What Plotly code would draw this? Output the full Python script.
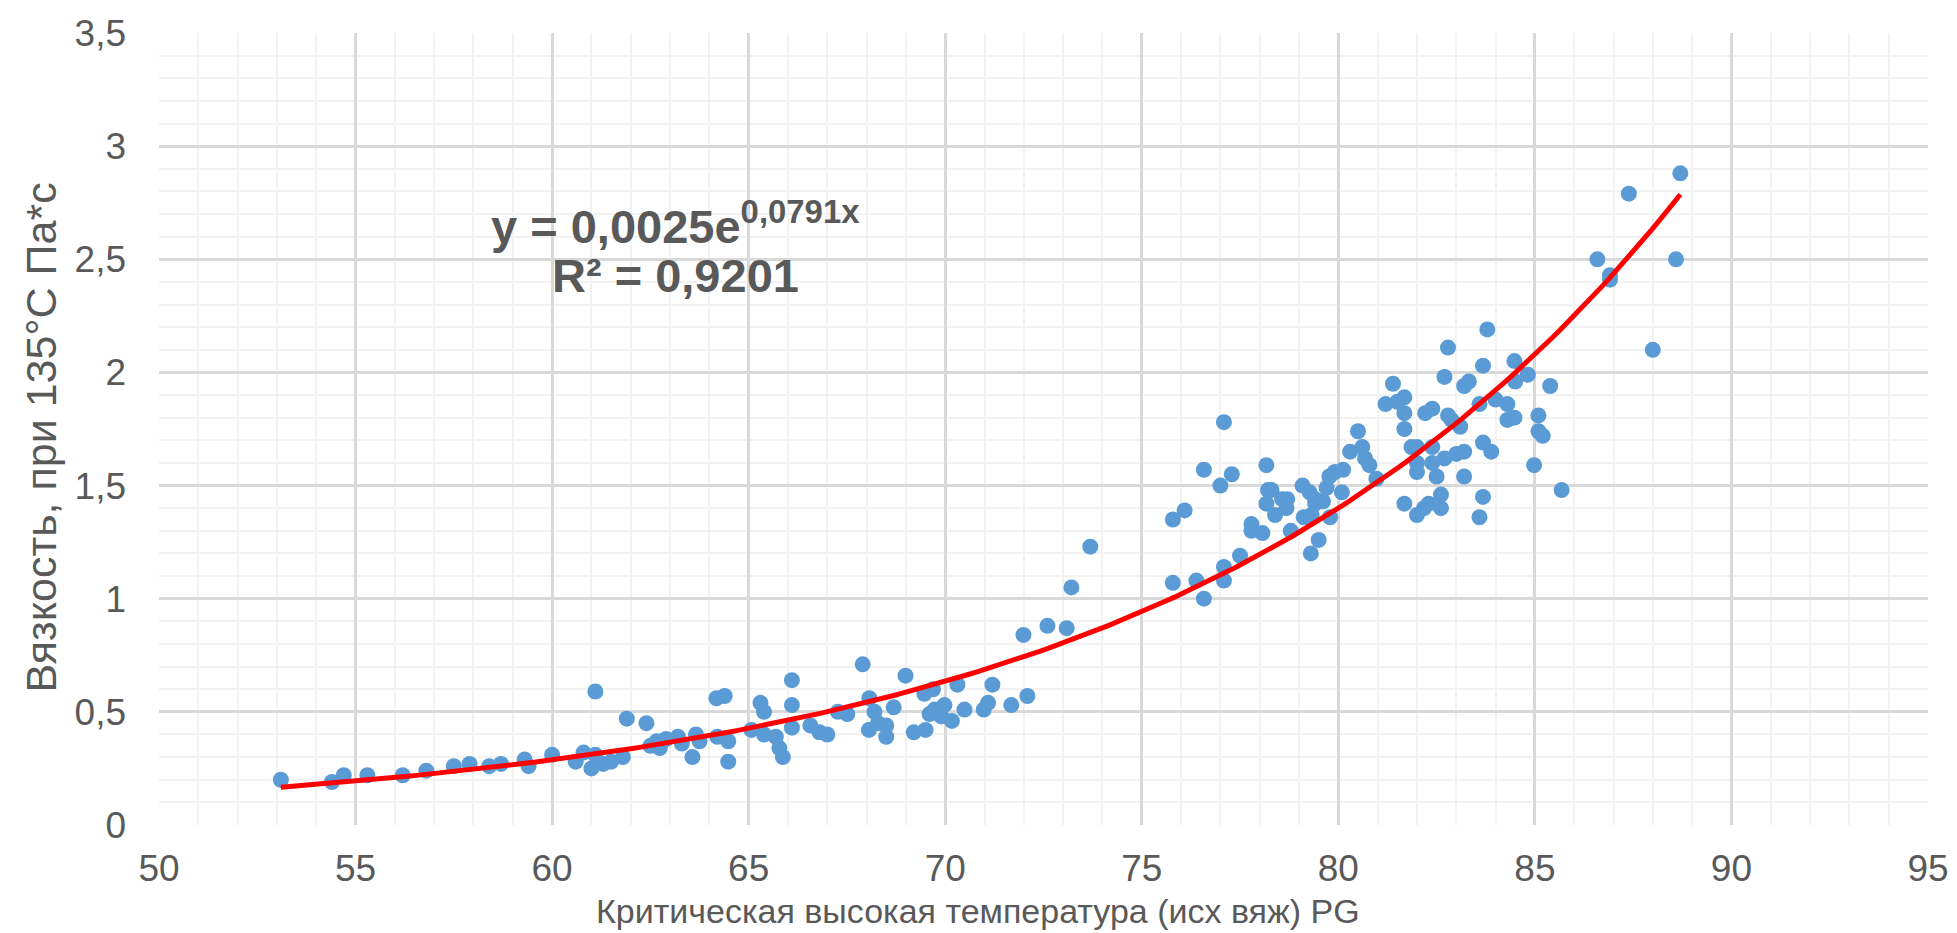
import numpy as np
import plotly.graph_objects as go

# Measured points: critical high temperature (x) vs viscosity at 135°C (y)
temp = [
    53.1, 54.4, 54.7, 55.3, 56.2, 56.8, 57.5, 57.9, 58.4, 58.7, 59.3, 59.4, 60.0, 60.6, 60.8,
    61.1, 61.0, 61.1, 61.3, 61.5, 61.8, 61.9, 62.4, 62.5, 62.66, 62.74, 62.9, 63.2, 63.3, 63.57,
    63.66, 63.75, 64.18, 64.39, 64.2, 64.48, 64.48, 65.07, 65.3, 65.39, 65.39, 65.69, 65.78, 65.87,
    66.1, 66.1, 66.1, 66.57, 66.8, 67.0,
    67.9, 67.27, 67.51, 68.07, 68.2, 68.69, 68.99, 68.29, 68.5, 68.06, 68.5, 69.2, 69.5,
    69.47, 69.69, 69.98, 69.6, 69.73, 69.9, 70.17, 70.31, 70.49, 70.98, 71.09, 71.2, 71.68,
    72.09, 71.99, 72.6, 73.09, 73.21, 73.69, 75.79, 75.79, 76.09, 76.39, 76.58, 76.58, 77.0,
    77.09, 77.09, 77.09, 77.29, 77.5, 77.79, 77.79, 78.07, 78.17, 78.21, 78.17,
    78.3, 78.39, 78.57, 78.7, 78.68, 78.79, 79.09, 79.12, 79.32, 79.27, 79.41, 79.41, 79.61,
    79.7, 79.79, 80.09, 79.77, 79.91, 80.12, 79.3, 79.5, 80.3, 80.5, 80.61, 80.68, 80.79, 80.97,
    81.39, 81.2, 81.5, 81.68, 81.68, 81.68, 81.68, 81.86, 82.0, 82.0, 82.0, 82.0, 82.18, 82.3,
    82.21, 82.39, 82.39, 82.39, 82.5, 82.61, 82.61, 82.7, 82.79, 82.7, 82.79, 82.88, 83.0, 83.1,
    83.2, 83.2, 83.2, 83.32, 83.59, 83.68, 83.68, 83.68, 83.59, 83.79, 83.89, 84.0, 84.3, 84.3,
    84.48, 84.48, 84.5, 84.82, 85.09, 85.09, 85.2, 84.98, 85.39, 85.68, 86.59, 86.91, 86.91,
    87.39, 88.0, 88.59, 88.7,
]
viscosity = [
    0.20, 0.19, 0.22, 0.22, 0.22, 0.24, 0.26, 0.27, 0.26, 0.27, 0.29, 0.26, 0.31, 0.28, 0.32,
    0.59, 0.25, 0.31, 0.27, 0.28, 0.30, 0.47, 0.45, 0.35, 0.37, 0.34, 0.38, 0.39, 0.36, 0.30,
    0.40, 0.37, 0.56, 0.57, 0.39, 0.37, 0.28, 0.42, 0.54, 0.50, 0.40, 0.39, 0.34, 0.30,
    0.64, 0.53, 0.43, 0.44, 0.41, 0.40,
    0.71, 0.50, 0.49, 0.56, 0.50, 0.52, 0.66, 0.45, 0.44, 0.42, 0.39, 0.41, 0.42,
    0.58, 0.60, 0.53, 0.49, 0.51, 0.48, 0.46, 0.62, 0.51, 0.51, 0.54, 0.62, 0.53,
    0.57, 0.84, 0.88, 0.87, 1.05, 1.23, 1.07, 1.35, 1.39, 1.08, 1.00, 1.57, 1.50,
    1.78, 1.14, 1.08, 1.55, 1.19, 1.33, 1.30, 1.29, 1.59, 1.48, 1.42,
    1.48, 1.37, 1.44, 1.44, 1.40, 1.30, 1.50, 1.36, 1.37, 1.47, 1.44, 1.42, 1.43,
    1.49, 1.36, 1.47, 1.54, 1.56, 1.57, 1.20, 1.26, 1.65, 1.74, 1.67, 1.62, 1.59, 1.53,
    1.95, 1.86, 1.87, 1.89, 1.82, 1.75, 1.42, 1.67, 1.67, 1.60, 1.56, 1.37, 1.40, 1.42,
    1.82, 1.84, 1.67, 1.60, 1.54, 1.46, 1.40, 1.98, 2.11, 1.62, 1.81, 1.79, 1.64, 1.76,
    1.65, 1.54, 1.94, 1.96, 1.86, 2.03, 1.69, 1.45, 1.36, 2.19, 1.65, 1.88, 1.86, 1.79,
    1.80, 2.05, 1.96, 1.99, 1.81, 1.74, 1.72, 1.59, 1.94, 1.48, 2.50, 2.43, 2.41,
    2.79, 2.10, 2.50, 2.88,
]

# Exponential trendline y = A * exp(B * x), as displayed on the chart
fit_a = 0.0025
fit_b = 0.0791
fit_r2 = 0.9201

x_ticks = [50, 55, 60, 65, 70, 75, 80, 85, 90, 95]
y_ticks = [0, 0.5, 1, 1.5, 2, 2.5, 3, 3.5]
y_tick_labels = ["0", "0,5", "1", "1,5", "2", "2,5", "3", "3,5"]

x_title = "Критическая высокая температура (исх вяж) PG"
y_title = "Вязкость, при 135°C Па*с"

x_fit = np.linspace(min(temp), max(temp), 200)
y_fit = fit_a * np.exp(fit_b * x_fit)

FONT = "Liberation Sans, Arial, sans-serif"
GREY = "#595959"

fig = go.Figure()
fig.add_trace(go.Scatter(
    x=temp, y=viscosity, mode="markers",
    marker=dict(color="#5B9BD5", size=16, line=dict(width=0)),
    showlegend=False, hoverinfo="x+y",
))
fig.add_trace(go.Scatter(
    x=x_fit, y=y_fit, mode="lines",
    line=dict(color="#FF0000", width=5),
    showlegend=False, hoverinfo="skip",
))

eq1 = "<b>y = 0,0025e<sup>0,0791x</sup></b>"
eq2 = "<b>R² = 0,9201</b>"
fig.add_annotation(x=63.15, y=2.66, xref="x", yref="y", text=eq1, showarrow=False,
                   font=dict(family=FONT, size=47, color=GREY), xanchor="center", yanchor="middle")
fig.add_annotation(x=63.15, y=2.43, xref="x", yref="y", text=eq2, showarrow=False,
                   font=dict(family=FONT, size=47, color=GREY), xanchor="center", yanchor="middle")

# Axis titles (x title is centred on the whole chart, as in the reference)
fig.add_annotation(x=0.463, y=-0.108, xref="paper", yref="paper", text=x_title, showarrow=False,
                   font=dict(family=FONT, size=34, color=GREY), xanchor="center", yanchor="middle")
fig.add_annotation(x=-0.067, y=0.49, xref="paper", yref="paper", text=y_title, showarrow=False,
                   textangle=-90, font=dict(family=FONT, size=43, color=GREY),
                   xanchor="center", yanchor="middle")

fig.update_layout(
    width=1957, height=933,
    margin=dict(l=151, r=37, t=25, b=116),
    paper_bgcolor="white", plot_bgcolor="white",
    font=dict(family=FONT, color=GREY),
    separators=", ",
)
fig.update_xaxes(
    range=[50, 95], tickvals=x_ticks, ticktext=[str(v) for v in x_ticks],
    showgrid=True, gridcolor="#D9D9D9", gridwidth=3,
    minor=dict(dtick=1, showgrid=True, gridcolor="#F2F2F2", gridwidth=2),
    zeroline=False, showline=False, ticks="", automargin=False,
    tickfont=dict(family=FONT, size=37, color=GREY), ticklabelstandoff=18,
)
fig.update_yaxes(
    range=[0, 3.5], tickvals=y_ticks, ticktext=y_tick_labels,
    showgrid=True, gridcolor="#D9D9D9", gridwidth=3,
    minor=dict(dtick=0.1, showgrid=True, gridcolor="#F2F2F2", gridwidth=2),
    zeroline=False, showline=False, ticks="", automargin=False,
    tickfont=dict(family=FONT, size=37, color=GREY), ticklabelstandoff=32,
)

fig.write_html("out.html")
